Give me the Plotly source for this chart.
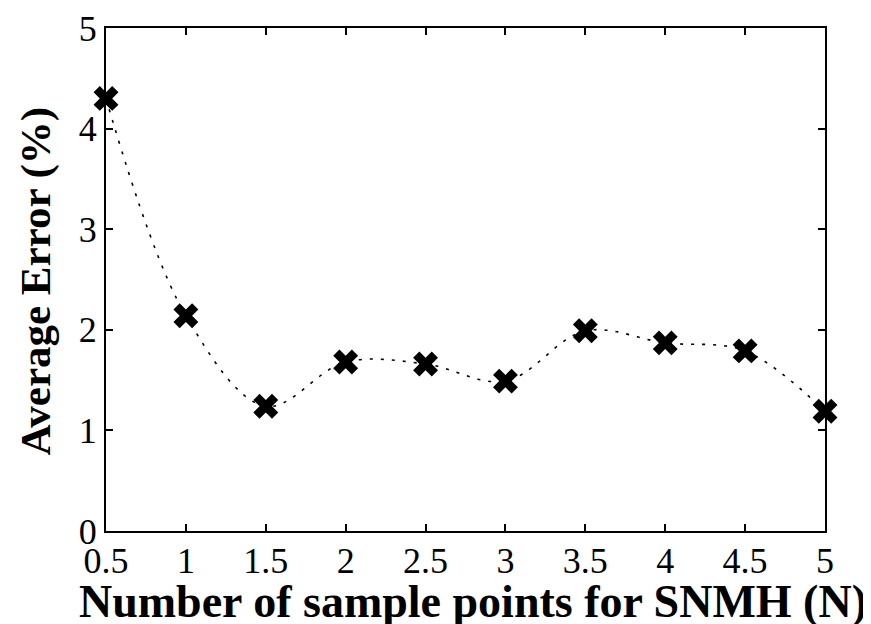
import plotly.graph_objects as go

x_vals = [0.5, 1, 1.5, 2, 2.5, 3, 3.5, 4, 4.5, 5]
avg_error = [4.30, 2.14, 1.24, 1.68, 1.66, 1.49, 1.99, 1.87, 1.79, 1.19]
x_ticks = [0.5, 1, 1.5, 2, 2.5, 3, 3.5, 4, 4.5, 5]
x_tick_text = ["0.5", "1", "1.5", "2", "2.5", "3", "3.5", "4", "4.5", "5"]
y_ticks = [0, 1, 2, 3, 4, 5]
x_title = "<b>Number of sample points for SNMH (N)</b>"
y_title = "<b>Average Error (%)</b>"

fig = go.Figure()
fig.add_trace(go.Scatter(
    x=x_vals, y=avg_error, mode="lines+markers",
    line=dict(color="black", width=1.6, dash="3px,8px", shape="spline", smoothing=1.0),
    marker=dict(symbol="x", size=22, color="black", line=dict(width=0)),
    cliponaxis=False, showlegend=False,
))

font = "Liberation Serif, Times New Roman, serif"
fig.update_layout(
    width=871, height=624,
    margin=dict(l=98, r=54, t=20, b=101),
    paper_bgcolor="white", plot_bgcolor="white",
    font=dict(family=font, color="black", size=36),
    xaxis=dict(
        range=[0.5, 5], tickvals=x_ticks, ticktext=x_tick_text,
        ticks="inside", ticklen=7, tickwidth=1.5, tickcolor="black",
        showline=True, linecolor="black", linewidth=2, mirror="ticks",
        showgrid=False, zeroline=False, automargin=False,
        tickfont=dict(size=36, family=font), ticklabelstandoff=-3,
        ticklabeloverflow="allow",
    ),
    yaxis=dict(
        range=[0, 5], tickvals=y_ticks,
        ticks="inside", ticklen=7, tickwidth=1.5, tickcolor="black",
        showline=True, linecolor="black", linewidth=2, mirror="ticks",
        showgrid=False, zeroline=False, automargin=False,
        tickfont=dict(size=36, family=font), ticklabeloverflow="allow",
    ),
    annotations=[
        dict(text=x_title, xref="paper", yref="paper", x=0.511, y=-0.14,
             xanchor="center", yanchor="middle", showarrow=False,
             font=dict(size=46, family=font, color="black")),
        dict(text=y_title, xref="paper", yref="paper", x=-0.0987, y=0.496,
             xanchor="center", yanchor="middle", showarrow=False, textangle=-90,
             font=dict(size=43, family=font, color="black")),
    ],
)

fig.write_html("out.html")
